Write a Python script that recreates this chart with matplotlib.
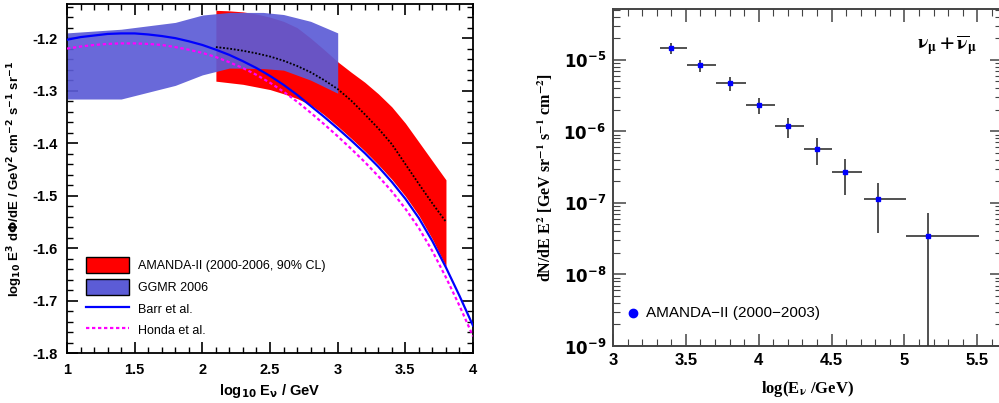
import matplotlib
matplotlib.use('Agg')
import matplotlib.pyplot as plt
import matplotlib.patches as mpatches
import matplotlib.lines as mlines
import numpy as np
from matplotlib.ticker import MultipleLocator, LogLocator, NullFormatter

plt.rcParams['font.family'] = ['Liberation Sans', 'DejaVu Sans']

# ---- left panel data: log10 E^3 dPhi/dE ----
model_x = [1.0, 1.1, 1.2, 1.3, 1.4, 1.5, 1.6, 1.7, 1.8, 1.9, 2.0, 2.1, 2.2, 2.3, 2.4, 2.5,
           2.6, 2.7, 2.8, 2.9, 3.0, 3.1, 3.2, 3.3, 3.4, 3.5, 3.6, 3.7, 3.8, 3.9, 4.0]
barr_y = [-1.203, -1.198, -1.195, -1.192, -1.191, -1.191, -1.193, -1.196, -1.200, -1.206,
          -1.213, -1.222, -1.232, -1.244, -1.257, -1.272, -1.289, -1.308, -1.329, -1.350,
          -1.372, -1.395, -1.419, -1.445, -1.474, -1.506, -1.543, -1.587, -1.637, -1.691, -1.748]
honda_y = [-1.220, -1.216, -1.213, -1.211, -1.210, -1.210, -1.211, -1.213, -1.217, -1.222,
           -1.228, -1.236, -1.246, -1.257, -1.270, -1.285, -1.302, -1.321, -1.342, -1.364,
           -1.387, -1.411, -1.436, -1.463, -1.492, -1.525, -1.562, -1.606, -1.656, -1.710, -1.768]

ggmr_x = [1.0, 1.4, 1.8, 2.0, 2.2, 2.45, 2.6, 2.8, 3.0]
ggmr_hi = [-1.190, -1.183, -1.170, -1.156, -1.151, -1.151, -1.155, -1.168, -1.190]
ggmr_lo = [-1.316, -1.316, -1.290, -1.270, -1.257, -1.258, -1.261, -1.280, -1.305]

amanda_x = [2.1, 2.2, 2.3, 2.4, 2.5, 2.6, 2.7, 2.8, 2.9, 3.0, 3.1, 3.2, 3.3, 3.4, 3.5, 3.6, 3.7, 3.8]
amanda_hi = [-1.147, -1.148, -1.150, -1.154, -1.160, -1.168, -1.180, -1.200, -1.222, -1.245,
             -1.265, -1.284, -1.306, -1.331, -1.362, -1.398, -1.434, -1.470]
amanda_lo = [-1.282, -1.285, -1.288, -1.293, -1.298, -1.306, -1.315, -1.327, -1.346, -1.368,
             -1.391, -1.415, -1.441, -1.469, -1.501, -1.538, -1.583, -1.635]
amanda_mid = [-1.217, -1.220, -1.224, -1.229, -1.235, -1.243, -1.253, -1.265, -1.280, -1.297,
              -1.319, -1.345, -1.372, -1.402, -1.440, -1.478, -1.515, -1.550]

# ---- right panel data: unfolded spectrum ----
E_log = [3.40, 3.60, 3.80, 4.00, 4.20, 4.40, 4.59, 4.82, 5.16]
E_lo = [3.32, 3.51, 3.71, 3.91, 4.11, 4.31, 4.50, 4.72, 5.01]
E_hi = [3.51, 3.71, 3.91, 4.11, 4.31, 4.50, 4.71, 5.01, 5.51]
flux = [1.47e-5, 8.5e-6, 4.8e-6, 2.3e-6, 1.2e-6, 5.7e-7, 2.7e-7, 1.15e-7, 3.4e-8]
flux_hi = [1.74e-5, 1.0e-5, 5.75e-6, 2.95e-6, 1.55e-6, 8.1e-7, 4.1e-7, 1.9e-7, 7.2e-8]
flux_lo = [1.2e-5, 6.8e-6, 3.7e-6, 1.74e-6, 8.1e-7, 3.4e-7, 1.3e-7, 3.8e-8, 1e-10]

fig = plt.figure(figsize=(9.99, 4.03), dpi=100)

# ================= left =================
ax = fig.add_axes([0.0671, 0.124, 0.4064, 0.866])
ax.fill_between(amanda_x, amanda_lo, amanda_hi, color='#ff0000', lw=0, zorder=1)
ax.fill_between(ggmr_x, ggmr_lo, ggmr_hi, color='#5c5cd6', alpha=0.92, lw=0, zorder=2)
ax.plot(amanda_x, amanda_mid, color='black', lw=1.3, ls=(0, (1, 1)), zorder=3)
ax.plot(model_x, honda_y, color='#ff00ff', lw=1.6, ls=(0, (1.5, 1.2)), zorder=4)
ax.plot(model_x, barr_y, color='#0000ff', lw=1.6, zorder=5)
ax.set_xlim(1, 4)
ax.set_ylim(-1.8, -1.135)
ax.xaxis.set_major_locator(MultipleLocator(0.5))
ax.xaxis.set_minor_locator(MultipleLocator(0.1))
ax.yaxis.set_major_locator(MultipleLocator(0.1))
ax.yaxis.set_minor_locator(MultipleLocator(0.02))
ax.set_xticks([1, 1.5, 2, 2.5, 3, 3.5, 4])
ax.set_xticklabels(['1', '1.5', '2', '2.5', '3', '3.5', '4'])
ax.set_yticks([-1.8, -1.7, -1.6, -1.5, -1.4, -1.3, -1.2])
ax.set_yticklabels(['-1.8', '-1.7', '-1.6', '-1.5', '-1.4', '-1.3', '-1.2'])
ax.tick_params(which='major', direction='in', length=8, width=1.2, labelsize=10.5, pad=7,
               top=True, right=True)
ax.tick_params(which='minor', direction='in', length=4, width=1.0, top=True, right=True)
for lab in ax.get_xticklabels() + ax.get_yticklabels():
    lab.set_fontweight('bold')
for s in ax.spines.values():
    s.set_linewidth(1.3)
ax.set_xlabel(r'log$_{\mathbf{10}}$ E$_{\mathbf{\nu}}$ / GeV', fontsize=10.5, fontweight='bold', labelpad=4)
ax.set_ylabel(r'log$_{\mathbf{10}}$ E$^{\mathbf{3}}$ d$\mathbf{\Phi}$/dE / GeV$^{\mathbf{2}}$ cm$^{\mathbf{-2}}$ s$^{\mathbf{-1}}$ sr$^{\mathbf{-1}}$',
              fontsize=9.5, fontweight='bold', labelpad=5)

h1 = mpatches.Patch(facecolor='#ff0000', edgecolor='black', lw=1.0)
h2 = mpatches.Patch(facecolor='#5c5cd6', edgecolor='black', lw=1.0)
h3 = mlines.Line2D([], [], color='#0000ff', lw=1.6)
h4 = mlines.Line2D([], [], color='#ff00ff', lw=1.6, ls=(0, (1.5, 1.2)))
ax.legend([h1, h2, h3, h4],
          ['AMANDA-II (2000-2006, 90% CL)', 'GGMR 2006', 'Barr et al.', 'Honda et al.'],
          loc='lower left', bbox_to_anchor=(0.02, 0.01), frameon=False, fontsize=9,
          handlelength=3.4, handleheight=1.6, labelspacing=0.45, handletextpad=0.7)

# ================= right =================
ax2 = fig.add_axes([0.6136, 0.1414, 0.3894, 0.836])
ax2.set_yscale('log')
xerr = [np.array(E_log) - np.array(E_lo), np.array(E_hi) - np.array(E_log)]
yerr = [np.array(flux) - np.array(flux_lo), np.array(flux_hi) - np.array(flux)]
ax2.errorbar(E_log, flux, xerr=xerr, yerr=yerr, fmt='s', ms=3, color='#0000ff',
             ecolor='#333333', elinewidth=1.2, capsize=0, zorder=3)
ax2.set_xlim(3, 5.67)
ax2.set_ylim(1e-9, 5.1e-5)
ax2.xaxis.set_major_locator(MultipleLocator(0.5))
ax2.xaxis.set_minor_locator(MultipleLocator(0.1))
ax2.set_xticks([3, 3.5, 4, 4.5, 5, 5.5])
ax2.set_xticklabels(['3', '3.5', '4', '4.5', '5', '5.5'])
ax2.yaxis.set_major_locator(LogLocator(base=10, numticks=20))
ax2.yaxis.set_minor_locator(LogLocator(base=10, subs=np.arange(2, 10), numticks=20))
ax2.yaxis.set_minor_formatter(NullFormatter())
ax2.set_yticks([1e-9, 1e-8, 1e-7, 1e-6, 1e-5])
ax2.set_yticklabels([r'$\mathbf{10^{-9}}$', r'$\mathbf{10^{-8}}$', r'$\mathbf{10^{-7}}$',
                     r'$\mathbf{10^{-6}}$', r'$\mathbf{10^{-5}}$'])
ax2.tick_params(which='major', direction='in', length=9, width=1.1, labelsize=12, pad=5,
                top=True, right=True, color='#444444')
ax2.tick_params(which='minor', direction='in', length=5, width=0.8, top=True, right=True,
                color='#444444')
for lab in ax2.get_xticklabels():
    lab.set_fontweight('bold')
for s in ax2.spines.values():
    s.set_linewidth(1.4)
    s.set_color('#444444')
ax2.set_xlabel(r'log(E$_{\mathbf{\nu}}$ /GeV)', fontsize=12, fontweight='bold',
               family='Liberation Serif', math_fontfamily='stix', labelpad=8)
ax2.set_ylabel(r'dN/dE E$^{\mathbf{2}}$ [GeV sr$^{\mathbf{-1}}$ s$^{\mathbf{-1}}$ cm$^{\mathbf{-2}}$]',
               fontsize=11.5, fontweight='bold', family='Liberation Serif', math_fontfamily='stix',
               labelpad=6)
ax2.plot([3.14], [2.9e-9], 'o', color='#0000ff', ms=6)
ax2.text(3.23, 2.9e-9, 'AMANDA\u2212II (2000\u22122003)', fontsize=11, va='center', ha='left')
ax2.text(5.29, 1.6e-5, r'$\mathbf{\nu_\mu + \overline{\nu}_\mu}$', fontsize=14,
         math_fontfamily='stix', ha='center', va='center')

fig.savefig('out.png', dpi=100)
